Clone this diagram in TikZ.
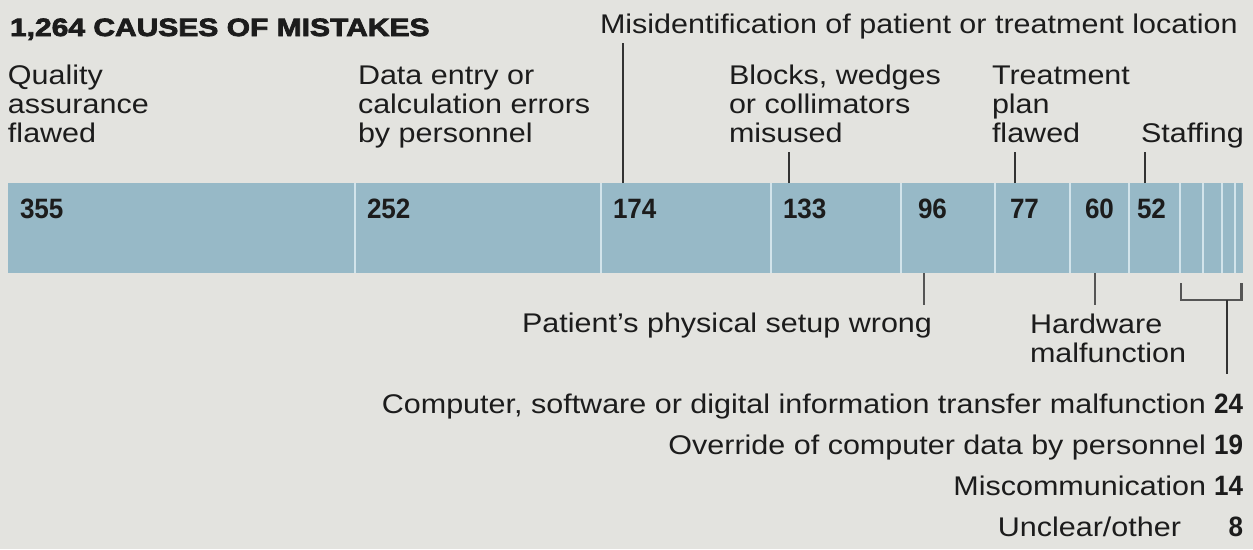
\documentclass[tikz,border=0pt]{standalone}
\usepackage{fontspec}
\setmainfont[FakeStretch=1.13]{Liberation Sans}
\newfontfamily\headfont[FakeStretch=1.2,BoldFeatures={FakeBold=3}]{Liberation Sans}
\newfontfamily\countfont[FakeStretch=0.93]{Liberation Sans}
\definecolor{paper}{HTML}{E3E3DF}
\definecolor{barblue}{HTML}{97B9C7}
\definecolor{divider}{HTML}{D2E4EB}
\definecolor{ink}{HTML}{1C1C1C}
\definecolor{leadtop}{HTML}{333333}
\definecolor{leadlow}{HTML}{555555}
\tikzset{
  every node/.style={inner sep=0pt, outer sep=0pt, text=ink},
  heading/.style={font=\headfont\bfseries\fontsize{25}{29}\selectfont, anchor=base west},
  lbl/.style={font=\fontsize{27}{29}\selectfont, align=left, anchor=base west},
  lblr/.style={font=\fontsize{27}{29}\selectfont, anchor=base east},
  num/.style={font=\countfont\bfseries\fontsize{28}{29}\selectfont, anchor=base west},
  numr/.style={font=\countfont\bfseries\fontsize{28}{29}\selectfont, anchor=base east},
  seg/.style={fill=barblue, minimum height=90pt, anchor=north west},
  sep/.style={draw=divider, line width=2pt},
  leader/.style={draw=leadtop, line width=1.6pt},
  leaderlow/.style={draw=leadlow, line width=2.2pt},
  bracket/.style={draw=leadlow, line width=2.5pt}
}
\begin{document}
\begin{tikzpicture}[x=1pt, y=-1pt]
\useasboundingbox (0,0) rectangle (1253,549);
\fill[paper] (0,0) rectangle (1253,549);

% stacked bar, one unit = 0.97706pt
\node[seg, minimum width=346.86pt] (s1)  at (8,183) {};
\node[seg, minimum width=246.22pt] (s2)  at (s1.north east) {};
\node[seg, minimum width=170.01pt] (s3)  at (s2.north east) {};
\node[seg, minimum width=129.95pt] (s4)  at (s3.north east) {};
\node[seg, minimum width=93.80pt]  (s5)  at (s4.north east) {};
\node[seg, minimum width=75.23pt]  (s6)  at (s5.north east) {};
\node[seg, minimum width=58.62pt]  (s7)  at (s6.north east) {};
\node[seg, minimum width=50.81pt]  (s8)  at (s7.north east) {};
\node[seg, minimum width=23.45pt]  (s9)  at (s8.north east) {};
\node[seg, minimum width=18.56pt]  (s10) at (s9.north east) {};
\node[seg, minimum width=13.68pt]  (s11) at (s10.north east) {};
\node[seg, minimum width=7.82pt]   (s12) at (s11.north east) {};
\foreach \s in {s2,s3,s4,s5,s6,s7,s8,s9,s10,s11,s12}
  \draw[sep] (\s.north west) -- (\s.south west);

% counts inside the bar
\node[num] (n355) at (20,218)   {355};
\node[num] (n252) at (367,218)  {252};
\node[num] (n174) at (613,218)  {174};
\node[num] (n133) at (783,218)  {133};
\node[num] (n96)  at (918,218)  {96};
\node[num] (n77)  at (1010,218) {77};
\node[num] (n60)  at (1085,218) {60};
\node[num] (n52)  at (1137,218) {52};

% headline and labels above the bar (multi-line labels sit on their last line)
\node[heading] (title) at (10,36) {1,264 CAUSES OF MISTAKES};
\node[lbl] (misid) at (600,33) {Misidentification of patient or treatment location};
\node[lbl] (quality) at (8,142) {Quality\\assurance\\flawed};
\node[lbl] (dataentry) at (358,142) {Data entry or\\calculation errors\\by personnel};
\node[lbl] (blocks) at (729,142) {Blocks, wedges\\or collimators\\misused};
\node[lbl] (plan) at (992,142) {Treatment\\plan\\flawed};
\node[lbl] (staff) at (1141,142) {Staffing};

% leaders above the bar
\coordinate (k174) at ([xshift=22pt]s3.north west);
\coordinate (k133) at ([xshift=18pt]s4.north west);
\coordinate (k77)  at ([xshift=20pt]s6.north west);
\coordinate (k52)  at ([xshift=16pt]s8.north west);
\draw[leader, shorten >=4pt]  (k174) -- (k174 |- misid.south);
\draw[leader, shorten >=10pt] (k133) -- (k133 |- blocks.south);
\draw[leader, shorten >=10pt] (k77)  -- (k77 |- plan.south);
\draw[leader, shorten >=4pt]  (k52)  -- (k52 |- staff.south);

% labels below the bar
\node[lblr] (setup) at (932,332) {Patient's physical setup wrong};
\node[lbl] (hardware) at (1030,362) {Hardware\\malfunction};

\coordinate (k96) at ([xshift=23pt]s5.south west);
\coordinate (k60) at ([xshift=25pt]s7.south west);
\draw[leaderlow, shorten >=7pt] (k96) -- (k96 |- setup.north);
\draw[leaderlow, shorten >=8pt] (k60) -- (k60 |- hardware.north);

% bracket over the four smallest causes
\coordinate (brL) at ([shift={(1.5,10)}]s9.south west);
\coordinate (brR) at ([shift={(-1.5,10)}]s12.south east);
\draw[bracket] (brL) -- ++(0,17) -| (brR);
\coordinate (brM) at (1227,300);

% small causes listed underneath
\node[lblr] (t24) at (1206,413) {Computer, software or digital information transfer malfunction};
\node[numr] (n24) at (1243,413) {24};
\node[lblr] (t19) at (1206,454) {Override of computer data by personnel};
\node[numr] (n19) at (1243,454) {19};
\node[lblr] (t14) at (1206,495) {Miscommunication};
\node[numr] (n14) at (1243,495) {14};
\node[lblr] (t8)  at (1181,536) {Unclear/other};
\node[numr] (n8)  at (1243,536) {8};

\draw[leader, shorten >=19pt] (brM) -- (brM |- n24.north);
\end{tikzpicture}
\end{document}
